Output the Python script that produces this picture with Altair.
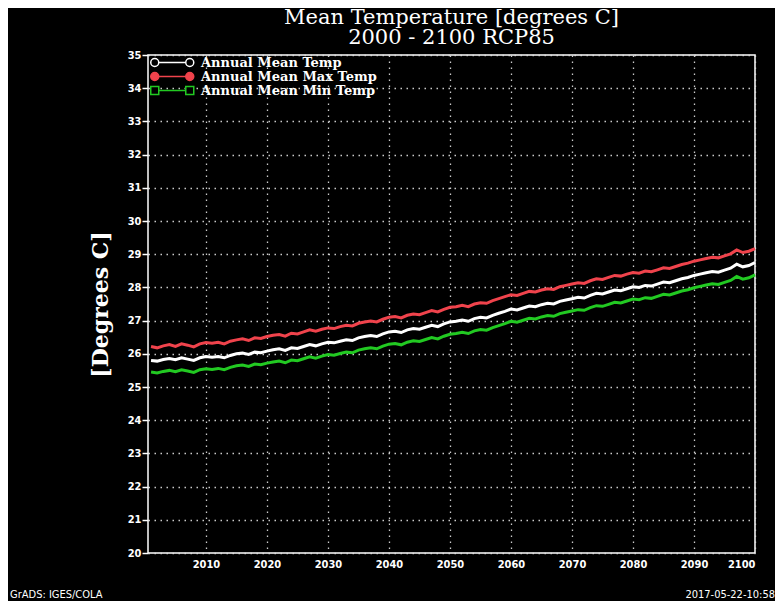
import altair as alt
import pandas as pd

years = list(range(2001, 2101))

mean_temp = [
    25.80, 25.78, 25.83, 25.86, 25.82, 25.88, 25.84, 25.80, 25.88, 25.92,
    25.90, 25.92, 25.88, 25.95, 26.00, 26.02, 25.98, 26.05, 26.03, 26.08,
    26.12, 26.15, 26.10, 26.18, 26.16, 26.22, 26.28, 26.24, 26.30, 26.35,
    26.33, 26.38, 26.42, 26.40, 26.48, 26.52, 26.55, 26.52, 26.60, 26.66,
    26.68, 26.64, 26.72, 26.76, 26.74, 26.80, 26.86, 26.82, 26.90, 26.96,
    26.98, 27.02, 26.98, 27.06, 27.10, 27.08, 27.16, 27.22, 27.28, 27.35,
    27.32, 27.38, 27.44, 27.42, 27.48, 27.52, 27.50, 27.58, 27.62, 27.66,
    27.70, 27.68, 27.76, 27.82, 27.80, 27.86, 27.92, 27.90, 27.96, 28.02,
    28.00, 28.06, 28.04, 28.10, 28.16, 28.14, 28.20, 28.26, 28.30, 28.36,
    28.40, 28.44, 28.48, 28.46, 28.52, 28.58, 28.70, 28.62, 28.66, 28.75,
]

max_temp = [
    26.22, 26.18, 26.24, 26.28, 26.22, 26.30, 26.26, 26.21, 26.30, 26.34,
    26.32, 26.35, 26.30, 26.38, 26.42, 26.45, 26.40, 26.48, 26.46, 26.52,
    26.56, 26.58, 26.53, 26.62, 26.60, 26.66, 26.72, 26.68, 26.74, 26.78,
    26.76, 26.82, 26.86, 26.84, 26.92, 26.96, 26.99, 26.96, 27.04, 27.10,
    27.12, 27.08, 27.16, 27.20, 27.18, 27.24, 27.30, 27.26, 27.34, 27.40,
    27.42, 27.46, 27.42, 27.50, 27.54, 27.52, 27.60, 27.66, 27.72, 27.78,
    27.76, 27.82, 27.88, 27.86, 27.92, 27.96, 27.94, 28.02, 28.06, 28.10,
    28.14, 28.12, 28.20, 28.26, 28.24, 28.30, 28.36, 28.34, 28.40, 28.45,
    28.43, 28.49, 28.47, 28.53, 28.59, 28.57, 28.63, 28.69, 28.73, 28.79,
    28.83, 28.87, 28.91, 28.89, 28.95, 29.01, 29.13, 29.05, 29.09, 29.17,
]

min_temp = [
    25.45, 25.42, 25.47, 25.50, 25.46, 25.52, 25.48, 25.44, 25.52, 25.55,
    25.53, 25.56, 25.52, 25.59, 25.64, 25.66, 25.62, 25.69, 25.67, 25.72,
    25.75, 25.78, 25.73, 25.81, 25.79, 25.85, 25.91, 25.87, 25.93, 25.98,
    25.96, 26.01, 26.05, 26.03, 26.11, 26.15, 26.18, 26.15, 26.23, 26.29,
    26.31, 26.27, 26.35, 26.39, 26.37, 26.43, 26.49, 26.45, 26.53, 26.59,
    26.61, 26.65, 26.61, 26.69, 26.73, 26.71, 26.79, 26.85, 26.91, 26.98,
    26.95, 27.01, 27.07, 27.05, 27.11, 27.15, 27.13, 27.21, 27.25, 27.29,
    27.33, 27.31, 27.39, 27.45, 27.43, 27.49, 27.55, 27.53, 27.59, 27.65,
    27.63, 27.69, 27.67, 27.73, 27.79, 27.77, 27.83, 27.89, 27.93, 27.99,
    28.03, 28.07, 28.11, 28.09, 28.15, 28.21, 28.33, 28.25, 28.29, 28.38,
]

series_names = ["Annual Mean Temp", "Annual Mean Max Temp", "Annual Mean Min Temp"]
series_colors = ["#ffffff", "#f0434c", "#22c922"]
legend_fills = ["#000000", "#f0434c", "#000000"]
x_ticks = list(range(2010, 2101, 10))
y_ticks = list(range(20, 36))
title_lines = ["Mean Temperature [degrees C]", "2000 - 2100 RCP85"]
y_title = "[Degrees C]"
footer_left = ["GrADS: IGES/COLA"]
footer_right = ["2017-05-22-10:58"]

# legend glyphs: line with a marker at each end (path units = 5 px)
circle_glyph = ("M-1.15,0 A0.8,0.8 0 1,0 0.45,0 A0.8,0.8 0 1,0 -1.15,0 "
                "M0.45,0 L5.85,0 "
                "M5.85,0 A0.8,0.8 0 1,0 7.45,0 A0.8,0.8 0 1,0 5.85,0")
square_glyph = ("M-1.15,-0.8 L0.45,-0.8 L0.45,0.8 L-1.15,0.8 Z "
                "M0.45,0 L5.85,0 "
                "M5.85,-0.8 L7.45,-0.8 L7.45,0.8 L5.85,0.8 Z")
legend_glyphs = [circle_glyph, circle_glyph, square_glyph]

rows = []
for name, vals in zip(series_names, [mean_temp, max_temp, min_temp]):
    for yr, v in zip(years, vals):
        rows.append({"year": yr, "temp": v, "series": name})
df = pd.DataFrame(rows)

x_enc = alt.X(
    "year:Q",
    scale=alt.Scale(domain=[2000.5, 2100], nice=False, zero=False),
    axis=alt.Axis(values=x_ticks, format="d", title=None, ticks=False,
                  labelPadding=5, grid=True, domain=False, labelOverlap=False),
)
y_enc = alt.Y(
    "temp:Q",
    scale=alt.Scale(domain=[20, 35], nice=False, zero=False),
    axis=alt.Axis(values=y_ticks, format="d", title=y_title, grid=True,
                  domain=False, ticks=True, tickSize=6, labelPadding=1,
                  labelOverlap=False,
                  titleX=-48, titleY=249, titleAngle=270,
                  titleAlign="center", titleBaseline="middle"),
)

base = alt.Chart(df)

lines = [
    base.transform_filter(alt.datum.series == name)
    .mark_line(color=col, strokeWidth=3)
    .encode(x=x_enc, y=y_enc)
    for name, col in zip(series_names, series_colors)
]

legend_layer = base.mark_point(filled=False, opacity=0, size=100).encode(
    x=x_enc,
    y=y_enc,
    color=alt.Color(
        "series:N",
        scale=alt.Scale(domain=series_names, range=series_colors),
        legend=alt.Legend(
            orient="none", legendX=2, legendY=1, title=None,
            labelFont="DejaVu Serif", labelFontSize=13, labelFontWeight="bold",
            labelColor="white",
            symbolSize=100, symbolStrokeWidth=1.5, symbolOpacity=1,
            padding=0, rowPadding=-10, labelOffset=38, labelLimit=400,
        ),
    ),
    fill=alt.Fill("series:N", scale=alt.Scale(domain=series_names, range=legend_fills)),
    shape=alt.Shape("series:N", scale=alt.Scale(domain=series_names, range=legend_glyphs)),
)

foot_l = alt.Chart(pd.DataFrame({"t": footer_left})).mark_text(
    font="DejaVu Sans Condensed", fontSize=11, color="white", align="left",
    baseline="middle",
).encode(x=alt.value(-138), y=alt.value(540), text="t:N")

foot_r = alt.Chart(pd.DataFrame({"t": footer_right})).mark_text(
    font="DejaVu Sans Condensed", fontSize=11, color="white", align="right",
    baseline="middle",
).encode(x=alt.value(627), y=alt.value(540), text="t:N")

chart = alt.layer(*lines, legend_layer, foot_l, foot_r).properties(
    width=607,
    height=498,
    title=alt.TitleParams(
        text=title_lines, font="DejaVu Serif", fontSize=21, fontWeight="normal",
        color="white", anchor="middle", frame="group", offset=1, lineHeight=20,
    ),
    autosize=alt.AutoSizeParams(type="none"),
    padding={"left": 140, "top": 47, "right": 20, "bottom": 48},
    background="black",
).configure_view(
    stroke="white", strokeWidth=1.5,
).configure_axis(
    labelColor="white", labelFont="DejaVu Sans Condensed", labelFontSize=11,
    labelFontWeight="bold", tickColor="white", tickWidth=1.5,
    gridColor="#e0e0e0", gridDash=[1.5, 4.5], gridWidth=1.3, gridOpacity=0.9,
    titleColor="white", titleFont="DejaVu Serif", titleFontSize=22,
    titleFontWeight="bold",
)

chart.save("out.html", embed_options={"renderer": "svg", "actions": False})
